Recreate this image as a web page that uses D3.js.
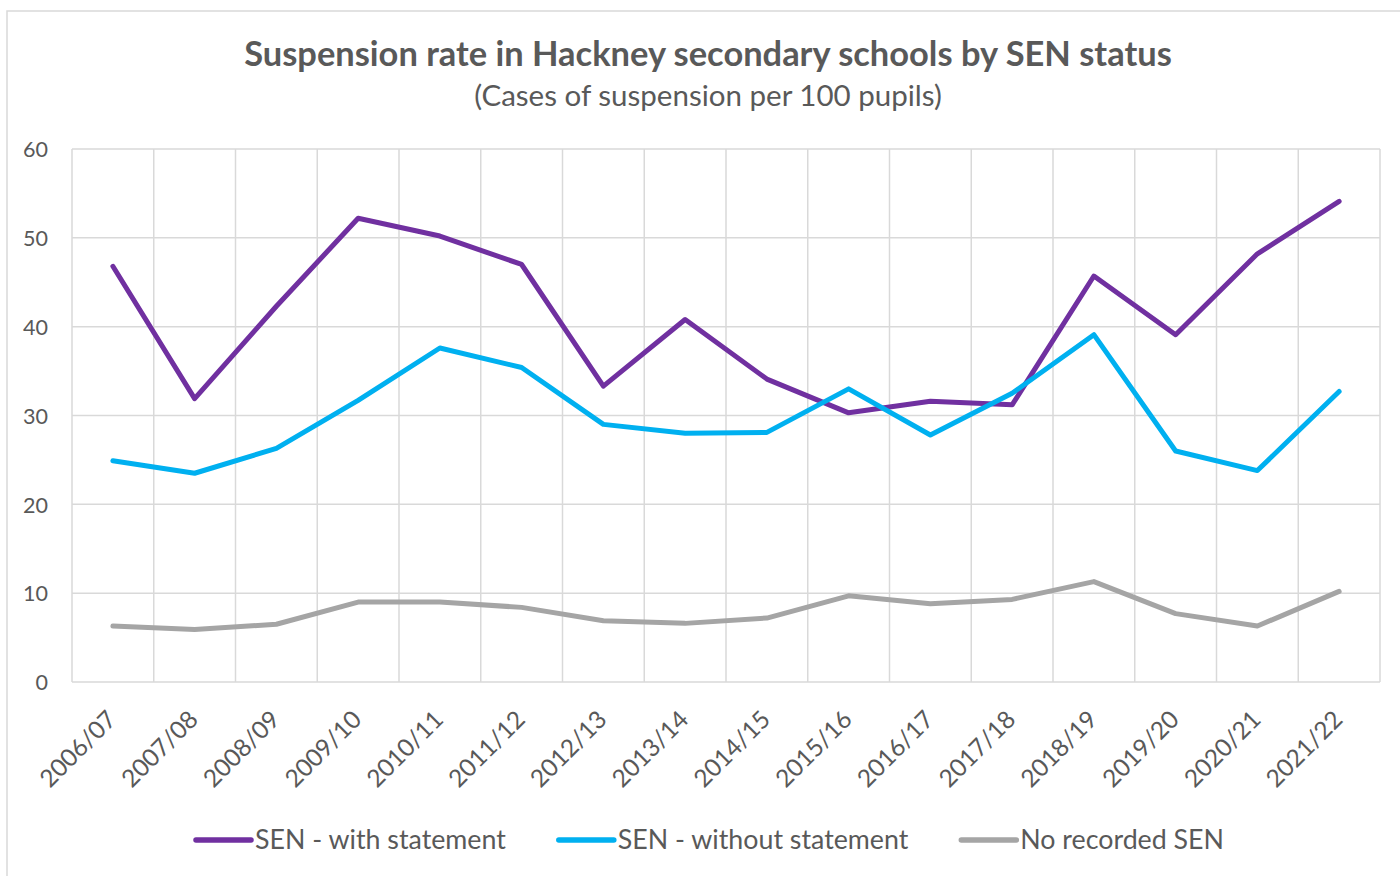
<!DOCTYPE html>
<html>
<head>
<meta charset="utf-8">
<script src="https://cdn.jsdelivr.net/npm/d3@7"></script>
<style>
  html, body { margin: 0; padding: 0; background: #fff; }
  svg { display: block; }
  text { font-family: Lato, "Open Sans", sans-serif; fill: #595959; }
</style>
</head>
<body>
<svg id="chart" width="1400" height="876"></svg>
<script>
const categories = ["2006/07","2007/08","2008/09","2009/10","2010/11","2011/12","2012/13","2013/14",
                    "2014/15","2015/16","2016/17","2017/18","2018/19","2019/20","2020/21","2021/22"];
const senWithStatement    = [46.8, 31.9, 42.3, 52.2, 50.2, 47.0, 33.3, 40.8, 34.1, 30.3, 31.6, 31.2, 45.7, 39.1, 48.2, 54.1];
const senWithoutStatement = [24.9, 23.5, 26.3, 31.7, 37.6, 35.4, 29.0, 28.0, 28.1, 33.0, 27.8, 32.5, 39.1, 26.0, 23.8, 32.7];
const noRecordedSen       = [6.3, 5.9, 6.5, 9.0, 9.0, 8.4, 6.9, 6.6, 7.2, 9.7, 8.8, 9.3, 11.3, 7.7, 6.3, 10.2];
const seriesNames  = ["SEN - with statement", "SEN - without statement", "No recorded SEN"];
const seriesColors = ["#7030A0", "#00B0F0", "#A5A5A5"];
const yTicks = [0, 10, 20, 30, 40, 50, 60];
const titleText = "Suspension rate in Hackney secondary schools by SEN status";
const subtitleText = "(Cases of suspension per 100 pupils)";

const series = [senWithStatement, senWithoutStatement, noRecordedSen];

const svg = d3.select("#chart");
const plot = { left: 72, right: 1380, top: 149, bottom: 682 };
const gridColor = "#D9D9D9";

// fit font size so text width matches a target width
function fitSize(sel, target) {
  const w = sel.node().getComputedTextLength();
  const fs = parseFloat(sel.attr("font-size"));
  return fs * target / w;
}

// chart area border (left and top visible)
svg.append("path")
  .attr("d", "M7,876 L7,11 L1400,11")
  .attr("fill", "none").attr("stroke", gridColor).attr("stroke-width", 1.5);

const x = d3.scaleBand().domain(categories).range([plot.left, plot.right]).padding(0);
const y = d3.scaleLinear().domain([0, 60]).range([plot.bottom, plot.top]);

// gridlines
const grid = svg.append("g");
grid.selectAll("line.h").data(yTicks).join("line")
  .attr("x1", plot.left).attr("x2", plot.right)
  .attr("y1", d => y(d)).attr("y2", d => y(d))
  .attr("stroke", gridColor).attr("stroke-width", 1.5);
const vEdges = categories.map(c => x(c)).concat([plot.right]);
grid.selectAll("line.v").data(vEdges).join("line")
  .attr("x1", d => d).attr("x2", d => d)
  .attr("y1", plot.top).attr("y2", plot.bottom)
  .attr("stroke", gridColor).attr("stroke-width", 1.5);

// y axis labels
const yAxis = d3.axisLeft(y).tickValues(yTicks).tickSize(0).tickPadding(0);
const yg = svg.append("g").attr("transform", `translate(48,0)`).call(yAxis);
yg.select(".domain").remove();
yg.selectAll("text").attr("font-size", 20).attr("font-family", "Lato").attr("fill", "#595959");
const yFs = fitSize(yg.selectAll("text").filter(d => d === 60), 25);
yg.selectAll("text").attr("font-size", yFs).attr("dy", "0.36em");

// x axis labels (rotated)
const xAxis = d3.axisBottom(x).tickSize(0).tickPadding(0);
const xg = svg.append("g").attr("transform", `translate(0,${plot.bottom})`).call(xAxis);
xg.select(".domain").remove();
xg.selectAll("text").attr("font-size", 20).attr("font-family", "Lato").attr("fill", "#595959");
const xFs = fitSize(xg.selectAll("text").filter((d, i) => i === 0), 96);
xg.selectAll("text")
  .attr("font-size", xFs)
  .attr("y", 0).attr("dy", 0)
  .attr("text-anchor", "end")
  .attr("transform", "translate(5,39) rotate(-45)");

// lines
const line = d3.line()
  .x((d, i) => x(categories[i]) + x.bandwidth() / 2)
  .y(d => y(d));
svg.append("g").selectAll("path").data(series).join("path")
  .attr("d", d => line(d))
  .attr("fill", "none")
  .attr("stroke", (d, i) => seriesColors[i])
  .attr("stroke-width", 5)
  .attr("stroke-linejoin", "round")
  .attr("stroke-linecap", "round");

// title & subtitle
const title = svg.append("text").text(titleText)
  .attr("x", 708).attr("y", 66).attr("text-anchor", "middle")
  .attr("font-size", 30).attr("font-weight", "bold");
title.attr("font-size", fitSize(title, 928));
const sub = svg.append("text").text(subtitleText)
  .attr("x", 708).attr("y", 106).attr("text-anchor", "middle")
  .attr("font-size", 24);
sub.attr("font-size", fitSize(sub, 468));

// legend
const legend = svg.append("g");
const items = legend.selectAll("g").data(seriesNames).join("g");
items.append("text").text(d => d).attr("font-size", 24).attr("dy", "0.35em");
const legFs = fitSize(items.select("text").filter((d, i) => i === 0), 251);
items.select("text").attr("font-size", legFs);
const sampleLen = 55, sampleGap = 4, itemGap = 53;
const widths = [];
items.select("text").each(function () { widths.push(this.getComputedTextLength()); });
const total = d3.sum(widths) + seriesNames.length * (sampleLen + sampleGap) + (seriesNames.length - 1) * itemGap;
let cx = 710 - total / 2;
const legY = 840;
items.each(function (d, i) {
  const g = d3.select(this).attr("transform", `translate(${cx},${legY})`);
  g.insert("line", "text")
    .attr("x1", 0).attr("x2", sampleLen).attr("y1", 0).attr("y2", 0)
    .attr("stroke", seriesColors[i]).attr("stroke-width", 5.5).attr("stroke-linecap", "round");
  g.select("text").attr("x", sampleLen + sampleGap);
  cx += sampleLen + sampleGap + widths[i] + itemGap;
});
</script>
</body>
</html>
